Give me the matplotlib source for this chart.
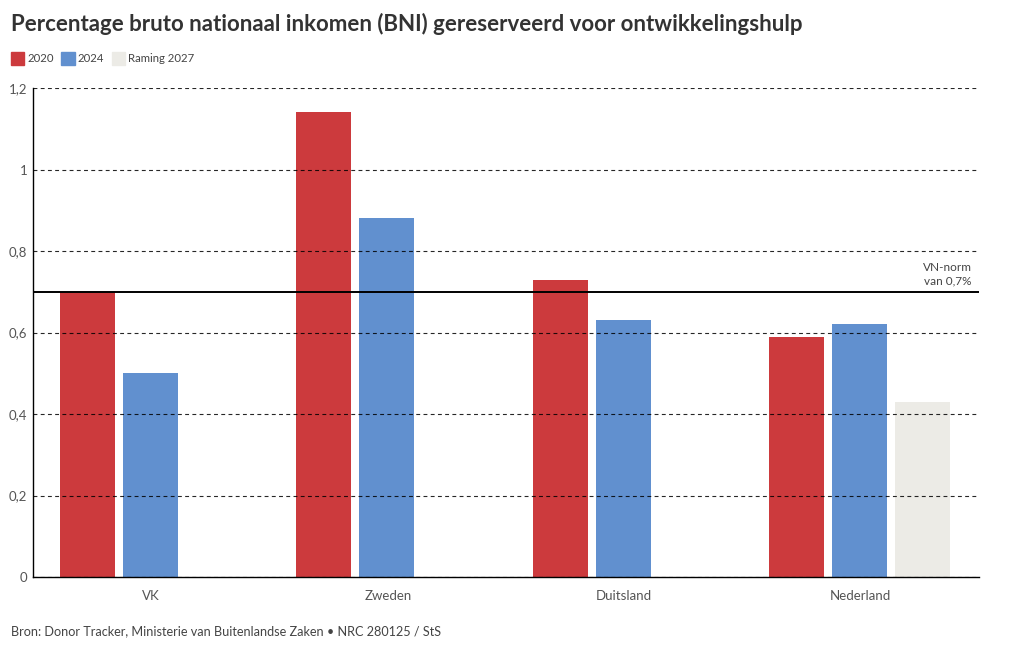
import numpy as np
import matplotlib.pyplot as plt
from matplotlib.patches import Rectangle

plt.rcParams['font.family'] = ['Lato', 'DejaVu Sans']

landen = ['VK', 'Zweden', 'Duitsland', 'Nederland']
bni_2020 = [0.70, 1.14, 0.73, 0.59]
bni_2024 = [0.50, 0.88, 0.63, 0.62]
raming_2027 = [None, None, None, 0.43]
reeksen = ['2020', '2024', 'Raming 2027']
kleuren = ['#cc3a3d', '#6190cf', '#ecebe6']
yticks = [0, 0.2, 0.4, 0.6, 0.8, 1.0, 1.2]
ytick_labels = ['0', '0,2', '0,4', '0,6', '0,8', '1', '1,2']
vn_norm = 0.7

fig = plt.figure(figsize=(10.2, 6.5), dpi=100)
ax = fig.add_axes([0.0324, 0.1123, 0.9274, 0.7523])

x = np.arange(len(landen))
step = 0.266
width = 0.2326
for i, (vals, kleur) in enumerate(zip([bni_2020, bni_2024, raming_2027], kleuren)):
    for j, v in enumerate(vals):
        if v is None:
            continue
        ax.bar(x[j] + (i - 1) * step - 0.004, v, width=width, color=kleur, zorder=2)

ax.set_xlim(-0.5, len(landen) - 0.5)
ax.set_ylim(0, 1.2)
ax.set_yticks(yticks)
ax.set_yticklabels(ytick_labels)
ax.set_xticks(x)
ax.set_xticklabels(landen)
ax.tick_params(axis='both', length=0, labelsize=9.5, labelcolor='#555555')
ax.tick_params(axis='y', pad=4)
ax.tick_params(axis='x', pad=9)
ax.yaxis.grid(True, linestyle=(0, (3.5, 3)), color='black', linewidth=0.8, zorder=3, alpha=0.85)
ax.set_axisbelow(False)
for s in ['top', 'right']:
    ax.spines[s].set_visible(False)
for s in ['left', 'bottom']:
    ax.spines[s].set_color('black')
    ax.spines[s].set_linewidth(1.0)
    ax.spines[s].set_zorder(4)

ax.axhline(vn_norm, color='black', linewidth=1.4, zorder=4)
ax.text(3.47, vn_norm + 0.012, 'VN-norm\nvan 0,7%', ha='right', va='bottom',
        fontsize=8.5, color='#444444', linespacing=1.3)

fig.text(0.011, 0.963, 'Percentage bruto nationaal inkomen (BNI) gereserveerd voor ontwikkelingshulp',
         fontsize=16, fontweight='bold', color='#333333', va='center')

# legenda
lx = 11
for naam, kleur in zip(reeksen, kleuren):
    fig.patches.append(Rectangle((lx / 1020, 1 - 65 / 650), 13 / 1020, 13 / 650,
                                 transform=fig.transFigure, color=kleur, figure=fig))
    t = fig.text((lx + 16) / 1020, 1 - 59 / 650, naam, fontsize=8.2, color='#444444', va='center')
    fig.canvas.draw()
    bb = t.get_window_extent()
    lx = bb.x1 + 8

fig.text(0.011, 1 - 631 / 650, 'Bron: Donor Tracker, Ministerie van Buitenlandse Zaken \u2022 NRC 280125 / StS',
         fontsize=9.1, color='#444444', va='center')

fig.savefig('out.png', dpi=100)
